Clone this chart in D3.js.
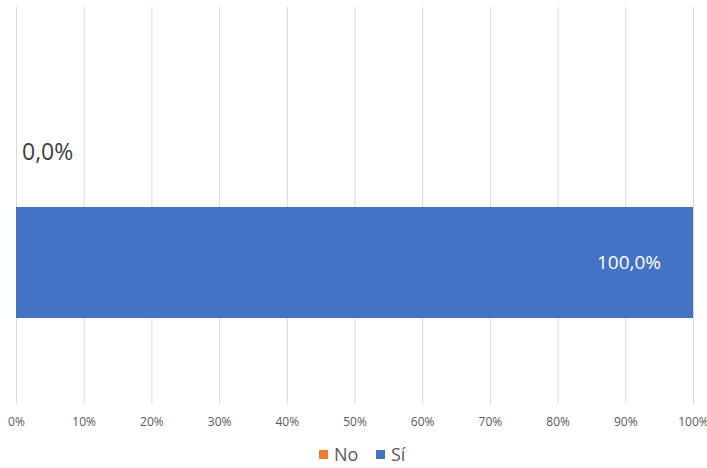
<!DOCTYPE html>
<html><head><meta charset="utf-8">
<script src="https://cdn.jsdelivr.net/npm/d3@7"></script>
<style>body{margin:0;background:#fff}svg{display:block}</style>
</head><body>
<svg id="c" width="707" height="468"></svg>
<script>
const series = ["No", "Sí"];
const values = [0.0, 100.0];
const colors = ["#ED7D31", "#4472C4"];
const ticks = [0,10,20,30,40,50,60,70,80,90,100];

const svg = d3.select("#c");
const x = d3.scaleLinear().domain([0,100]).range([16,693]);
const y = d3.scaleBand().domain(series).range([96,318]).padding(0);
const fmt = v => v.toFixed(1).replace(".", ",") + "%";

// gridlines
svg.append("g").selectAll("line").data(ticks).join("line")
  .attr("x1", d=>x(d)+0.5).attr("x2", d=>x(d)+0.5)
  .attr("y1", 7).attr("y2", 404)
  .attr("stroke", "#d9d9d9").attr("stroke-width", 1);

// axis labels
const ax = d3.axisBottom(x).tickValues(ticks).tickFormat(d=>d+"%").tickSize(0).tickPadding(0);
const g = svg.append("g").attr("transform","translate(0,417)").call(ax);
g.select(".domain").remove();
g.selectAll("text").attr("font-family","Open Sans").attr("font-size",12).attr("fill","#595959");

// bars
svg.append("g").selectAll("rect").data(series).join("rect")
  .attr("x", x(0)).attr("y", d=>y(d))
  .attr("width", (d,i)=>x(values[i])-x(0))
  .attr("height", y.bandwidth())
  .attr("fill", (d,i)=>colors[i]);

// data labels
svg.append("g").selectAll("text").data(series).join("text")
  .attr("x", (d,i)=> values[i] > 50 ? x(values[i]) - 32 : x(values[i]) + 6)
  .attr("y", d=>y(d)+y.bandwidth()/2)
  .attr("dy","0.36em")
  .attr("text-anchor", (d,i)=> values[i] > 50 ? "end" : "start")
  .attr("font-family","Open Sans")
  .attr("font-size", (d,i)=> values[i] > 50 ? 19 : 23)
  .attr("fill", (d,i)=> values[i] > 50 ? "#ffffff" : "#404040")
  .text((d,i)=>fmt(values[i]));

// legend
const legX = [319, 376];
const lg = svg.append("g").selectAll("g").data(series).join("g")
  .attr("transform",(d,i)=>`translate(${legX[i]},450)`);
lg.append("rect").attr("width",9).attr("height",9).attr("fill",(d,i)=>colors[i]);
lg.append("text").attr("x",15).attr("y",4.5).attr("dy","0.36em")
  .attr("font-family","Open Sans").attr("font-size",18).attr("fill","#595959")
  .text(d=>d);
</script>
</body></html>
